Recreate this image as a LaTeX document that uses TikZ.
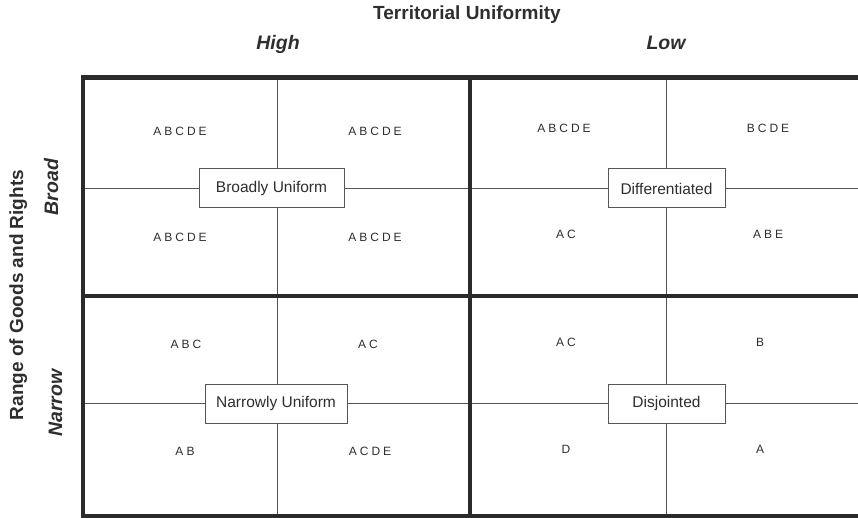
\documentclass[tikz,border=0pt]{standalone}
\usepackage{fontspec}
\setmainfont{Liberation Sans}
\newfontfamily\cellfont[LetterSpace=25]{Liberation Sans}
\usetikzlibrary{positioning}
\definecolor{framegray}{HTML}{2B2B2B}
\definecolor{linegray}{HTML}{555555}
\definecolor{inkgray}{HTML}{2E2E2E}
\begin{document}
\begin{tikzpicture}[x=1pt,y=-1pt,
		frame/.style={draw=framegray,line width=4.5pt},
		divider/.style={draw=linegray,line width=1pt},
		typebox/.style={draw=linegray,line width=1pt,fill=white,minimum height=39pt,inner sep=0pt,text=inkgray,font=\fontsize{15.5}{18}\selectfont},
		cell/.style={text=inkgray,font=\cellfont\fontsize{12}{14}\selectfont},
		axistitle/.style={text=inkgray,font=\bfseries\fontsize{19}{22}\selectfont},
		axislevel/.style={text=inkgray,font=\bfseries\itshape\fontsize{19.5}{22}\selectfont}]
	\useasboundingbox (0,0) rectangle (858,518);
	\coordinate (nw) at (83,77.5);
	\coordinate (se) at (860,516);
	\coordinate (midtop) at (470,77.5);
	\coordinate (midbot) at (470,516);
	\coordinate (midleft) at (83,296);
	\coordinate (midright) at (860,296);
	\coordinate (leftaxis) at (277,77.5);
	\coordinate (rightaxis) at (666.5,77.5);
	\node[axistitle,anchor=base] (terr) at (467,20) {Territorial Uniformity};
	\node[axislevel,anchor=base] (high) at (278,50) {High};
	\node[axislevel,anchor=base] (low) at (666,49.5) {Low};
	\node[axistitle,anchor=base,rotate=90] (range) at (23,295) {Range of Goods and Rights};
	\node[axislevel,anchor=base,rotate=90] (broadlvl) at (58,187) {Broad};
	\node[axislevel,anchor=base,rotate=90] (narrowlvl) at (62,403) {Narrow};
	\node[typebox,minimum width=145pt] (broad) at (271.5,188.5) {Broadly Uniform};
	\node[typebox,minimum width=117pt] (diff) at (666.5,188.5) {Differentiated};
	\node[typebox,minimum width=142pt] (narrow) at (276,403.5) {Narrowly Uniform};
	\node[typebox,minimum width=117pt] (disj) at (666.5,403.5) {Disjointed};
	\draw[divider] (leftaxis) -- (leftaxis |- broad.north);
	\draw[divider] (broad.south -| leftaxis) -- (leftaxis |- narrow.north);
	\draw[divider] (narrow.south -| leftaxis) -- (leftaxis |- se);
	\draw[divider] (rightaxis) -- (rightaxis |- diff.north);
	\draw[divider] (diff.south -| rightaxis) -- (rightaxis |- disj.north);
	\draw[divider] (disj.south -| rightaxis) -- (rightaxis |- se);
	\draw[divider] (broad.west) -- (broad.west -| nw);
	\draw[divider] (broad.east) -- (diff.west);
	\draw[divider] (diff.east) -- (diff.east -| se);
	\draw[divider] (narrow.west) -- (narrow.west -| nw);
	\draw[divider] (narrow.east) -- (disj.west);
	\draw[divider] (disj.east) -- (disj.east -| se);
	\draw[frame] (nw) rectangle (se);
	\draw[frame] (midtop) -- (midbot);
	\draw[frame] (midleft) -- (midright);
	\node[cell] (bu1) at (180,131) {ABCDE};
	\node[cell] (bu2) at (375,131) {ABCDE};
	\node[cell] (bu3) at (180,237) {ABCDE};
	\node[cell] (bu4) at (375,237) {ABCDE};
	\node[cell] (di1) at (564,128) {ABCDE};
	\node[cell] (di2) at (768,128) {BCDE};
	\node[cell] (di3) at (566,234) {AC};
	\node[cell] (di4) at (768,234) {ABE};
	\node[cell] (nu1) at (186,344) {ABC};
	\node[cell] (nu2) at (368,344) {AC};
	\node[cell] (nu3) at (185,451) {AB};
	\node[cell] (nu4) at (370,451) {ACDE};
	\node[cell] (dj1) at (566,342) {AC};
	\node[cell] (dj2) at (760,342) {B};
	\node[cell] (dj3) at (566,449) {D};
	\node[cell] (dj4) at (760,449) {A};
\end{tikzpicture}
\end{document}
